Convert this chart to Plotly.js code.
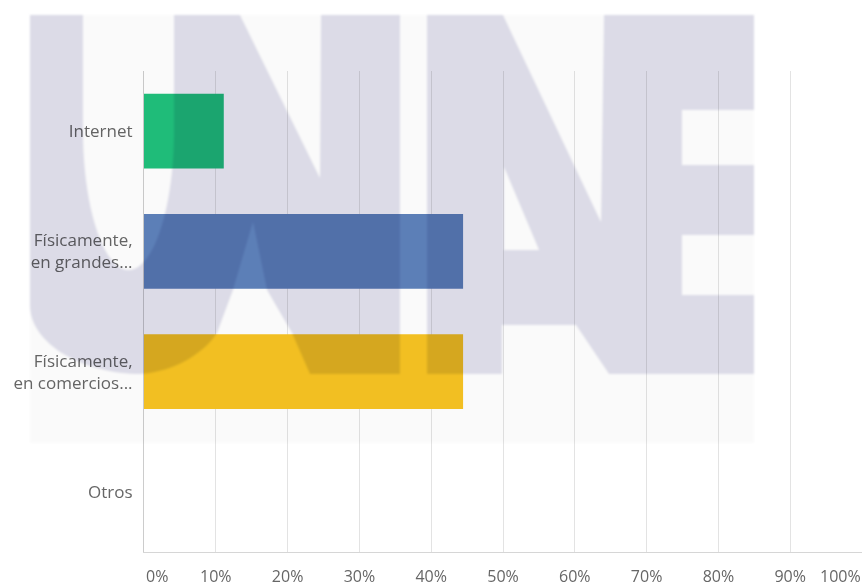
<!DOCTYPE html>
<html>
<head>
<meta charset="utf-8">
<script src="https://cdn.plot.ly/plotly-3.0.1.min.js"></script>
<style>
html, body { margin: 0; padding: 0; background: #ffffff; }
#chart { width: 864px; height: 587px; }
.imagelayer image { mix-blend-mode: multiply; }
</style>
</head>
<body>
<div id="chart"></div>
<script>
// ---- data ----
const categories = ['Internet', 'Físicamente,<br>en grandes...', 'Físicamente,<br>en comercios...', 'Otros'];
const percentages = [11.11, 44.44, 44.44, 0];
const barColors = ['#1fc07b', '#5e82bb', '#f7c322', '#9dd6f0'];
const tickValues = [0, 10, 20, 30, 40, 50, 60, 70, 80, 90, 100];
const tickLabels = ['0%', '10%', '20%', '30%', '40%', '50%', '60%', '70%', '80%', '90%', '100%'];

// ---- layout constants ----
const W = 864, H = 587;
const M = { l: 144, r: 2, t: 71, b: 35 };
const plotW = W - M.l - M.r, plotH = H - M.t - M.b;
const font = { family: 'Open Sans, sans-serif', size: 17, color: '#666666' };
const xFont = { family: 'Open Sans, sans-serif', size: 16, color: '#666666' };

// ---- decorative watermark (drawn in page pixels) ----
const wmSvg = [
  '<svg xmlns="http://www.w3.org/2000/svg" width="864" height="587" viewBox="0 0 864 587">',
  '<defs><filter id="b" x="-5%" y="-5%" width="110%" height="110%"><feGaussianBlur stdDeviation="0.8"/></filter></defs>',
  '<g filter="url(#b)">',
  '<rect x="30" y="15" width="724" height="428" fill="#fafafa"/>',
  '<rect x="30" y="15" width="724" height="359" fill="#dcdbe7"/>',
  '<g fill="#fafafa">',
  '<path d="M83,15 L174,15 L174,130 C174,207 153.6,270 128.5,270 C103.4,270 83,207 83,130 Z"/>',
  '<path d="M30,305 C30,345 85,374 140,374 L30,374 Z"/>',
  '<path d="M140,374 C175,372 205,352 217,333 L233,290 L253,222 L267,290 L292,333 L310,374 Z"/>',
  '<path d="M240,15 L321,15 L320,178 Z"/>',
  '<rect x="400" y="15" width="27" height="359"/>',
  '<path d="M503,15 L604,15 L601,222 Z"/>',
  '<path d="M504,167 L539,250 L504,250 Z"/>',
  '<path d="M502,325 L576,325 L609,374 L502,374 Z"/>',
  '<rect x="682" y="110" width="72" height="55"/>',
  '<rect x="682" y="235" width="72" height="60"/>',
  '</g></g></svg>'
].join('');
const wmSrc = 'data:image/svg+xml;charset=utf-8,' + encodeURIComponent(wmSvg);

const last = tickValues.length - 1;
const innerText = tickLabels.map((t, i) => (i === 0 || i === last) ? '' : t);
const labelY = -24 / plotH;

const trace = {
  type: 'bar',
  orientation: 'h',
  y: categories,
  x: percentages,
  marker: { color: barColors, line: { width: 0 } },
  hoverinfo: 'none'
};

const layout = {
  width: W,
  height: H,
  margin: M,
  paper_bgcolor: '#ffffff',
  plot_bgcolor: '#ffffff',
  showlegend: false,
  bargap: 0.378,
  font: font,
  xaxis: {
    range: [0, 100],
    tickmode: 'array',
    tickvals: tickValues,
    ticktext: innerText,
    ticks: '',
    showgrid: true,
    gridcolor: '#e3e3e3',
    gridwidth: 1,
    zeroline: false,
    showline: true,
    linecolor: '#d6d6d6',
    linewidth: 1,
    ticklabelstandoff: 10,
    tickfont: xFont,
    fixedrange: true
  },
  yaxis: {
    type: 'category',
    categoryarray: categories,
    autorange: 'reversed',
    showgrid: false,
    zeroline: false,
    showline: true,
    linecolor: '#cccccc',
    linewidth: 1,
    ticks: '',
    ticklabelstandoff: 7,
    tickfont: font,
    fixedrange: true
  },
  annotations: [
    { x: tickValues[0], xref: 'x', y: labelY, yref: 'paper', text: tickLabels[0],
      xanchor: 'left', yanchor: 'middle', showarrow: false, font: xFont, xshift: 0 },
    { x: tickValues[last], xref: 'x', y: labelY, yref: 'paper', text: tickLabels[last],
      xanchor: 'right', yanchor: 'middle', showarrow: false, font: xFont, xshift: 1 }
  ],
  images: [{
    source: wmSrc,
    xref: 'paper', yref: 'paper',
    x: -M.l / plotW, y: (plotH + M.t) / plotH,
    sizex: W / plotW, sizey: H / plotH,
    xanchor: 'left', yanchor: 'top',
    sizing: 'stretch',
    layer: 'above'
  }]
};

Plotly.newPlot('chart', [trace], layout, { displayModeBar: false, staticPlot: true });
</script>
</body>
</html>
